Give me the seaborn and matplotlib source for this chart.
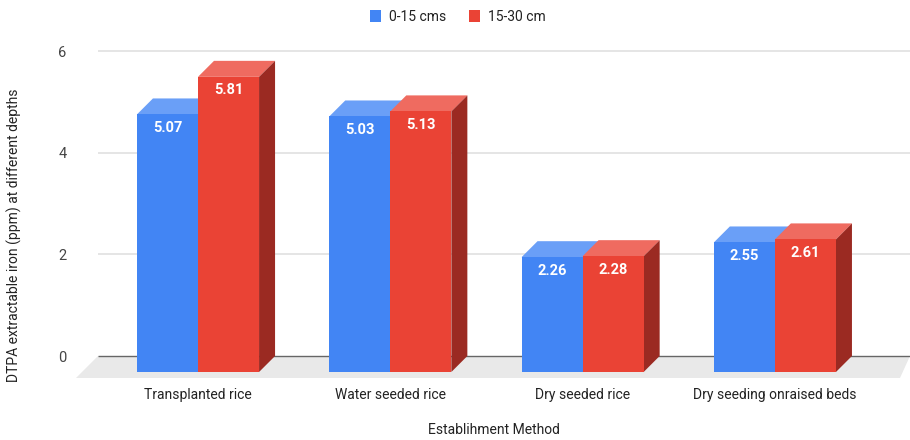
import numpy as np
import pandas as pd
import matplotlib
matplotlib.use("Agg")
import matplotlib.pyplot as plt
from matplotlib.patches import Polygon, Patch, Rectangle
import seaborn as sns

# data
methods = ["Transplanted rice", "Water seeded rice", "Dry seeded rice", "Dry seeding onraised beds"]
depths = ["0-15 cms", "15-30 cm"]
vals_0_15 = [5.07, 5.03, 2.26, 2.55]
vals_15_30 = [5.81, 5.13, 2.28, 2.61]
yticks = [0, 2, 4, 6]

df = pd.DataFrame({
    "method": methods * 2,
    "depth": [depths[0]] * 4 + [depths[1]] * 4,
    "value": vals_0_15 + vals_15_30,
})

front = {"0-15 cms": "#4285F4", "15-30 cm": "#EA4335"}
top_c = {"0-15 cms": "#6a9ff7", "15-30 cm": "#ef6b60"}
side_c = {"0-15 cms": "#2f5fb3", "15-30 cm": "#9b2a22"}

sns.set_style("white")
plt.rcParams["font.family"] = ["Roboto", "DejaVu Sans"]

fig = plt.figure(figsize=(9.1, 4.4), dpi=100)
ax = fig.add_axes([75 / 910, 62 / 440, 835 / 910, 338 / 440])

sns.barplot(data=df, x="method", y="value", hue="depth", order=methods,
            hue_order=depths, palette=front, width=0.635, saturation=1,
            edgecolor="none", linewidth=0, legend=False, ax=ax)
bars = sorted([p for p in ax.patches if isinstance(p, Rectangle)], key=lambda p: p.get_x())

# 3d depth offset (data units)
px_x = 192.3
px_y = 50.8
dx = 16 / px_x
dy = 16 / px_y
xlo, xhi = -123 / px_x, 712 / px_x
ylo, yhi = -6 / px_y, 332 / px_y
ax.set_xlim(xlo, xhi)
ax.set_ylim(ylo, yhi)

# floor and back wall grid
back_left = xlo + 23 / px_x
floor = Polygon([(back_left, dy), (xhi, dy), (xhi - 10 / px_x, ylo),
                 (back_left - (dy - ylo) * px_y / px_x, ylo)],
                closed=True, facecolor="#e9e9e9", edgecolor="none", zorder=0)
ax.add_patch(floor)
ax.hlines([t + dy for t in yticks[1:]], back_left, xhi, color="#e0e0e0", lw=1.2, zorder=0)
ax.hlines(dy, back_left, xhi, color="#666666", lw=1, zorder=1)

# extrude bars, left to right so the right bar hides the side of the left one
for i, b in enumerate(bars):
    x0 = b.get_x()
    x1 = x0 + b.get_width()
    h = b.get_height()
    col = b.get_facecolor()
    key = "0-15 cms" if np.allclose(col[:3], matplotlib.colors.to_rgb(front["0-15 cms"]), atol=0.02) else "15-30 cm"
    z = 2 + i * 0.1
    b.set_zorder(z + 0.05)
    ax.add_patch(Polygon([(x0, h), (x0 + dx, h + dy), (x1 + dx, h + dy), (x1, h)],
                         closed=True, facecolor=top_c[key], edgecolor="none", zorder=z))
    ax.add_patch(Polygon([(x1, 0), (x1 + dx, dy), (x1 + dx, h + dy), (x1, h)],
                         closed=True, facecolor=side_c[key], edgecolor="none", zorder=z))
    ax.text((x0 + x1) / 2, h - 0.13, f"{h:.2f}", ha="center", va="top", color="white",
            fontsize=10.5, fontweight="bold", zorder=z + 0.08)

sns.despine(ax=ax, left=True, bottom=True)
ax.set_yticks([t + dy for t in yticks])
ax.set_yticklabels([str(t) for t in yticks], fontsize=10.5, color="#444444")
ax.tick_params(axis="y", length=0, pad=6)
ax.tick_params(axis="x", length=0, pad=7, labelsize=10, labelcolor="#222222")
ax.set_xlabel("")
ax.set_ylabel("")
ax.grid(False)

fig.text(494 / 910, 10 / 440, "Establihment Method", ha="center", va="center",
         fontsize=10, color="#222222")
fig.text(14 / 910, 205 / 440, "DTPA extractable iron (ppm) at different depths",
         rotation=90, ha="center", va="center", fontsize=10, color="#222222")

handles = [Patch(facecolor=front[d], edgecolor="none", label=d) for d in depths]
fig.legend(handles=handles, loc="center", bbox_to_anchor=(458 / 910, 1 - 17 / 440),
           ncol=2, frameon=False, fontsize=10, handlelength=0.8, handleheight=1.0,
           handletextpad=0.6, columnspacing=1.6, labelcolor="#222222")

fig.savefig("out.png", dpi=100)
